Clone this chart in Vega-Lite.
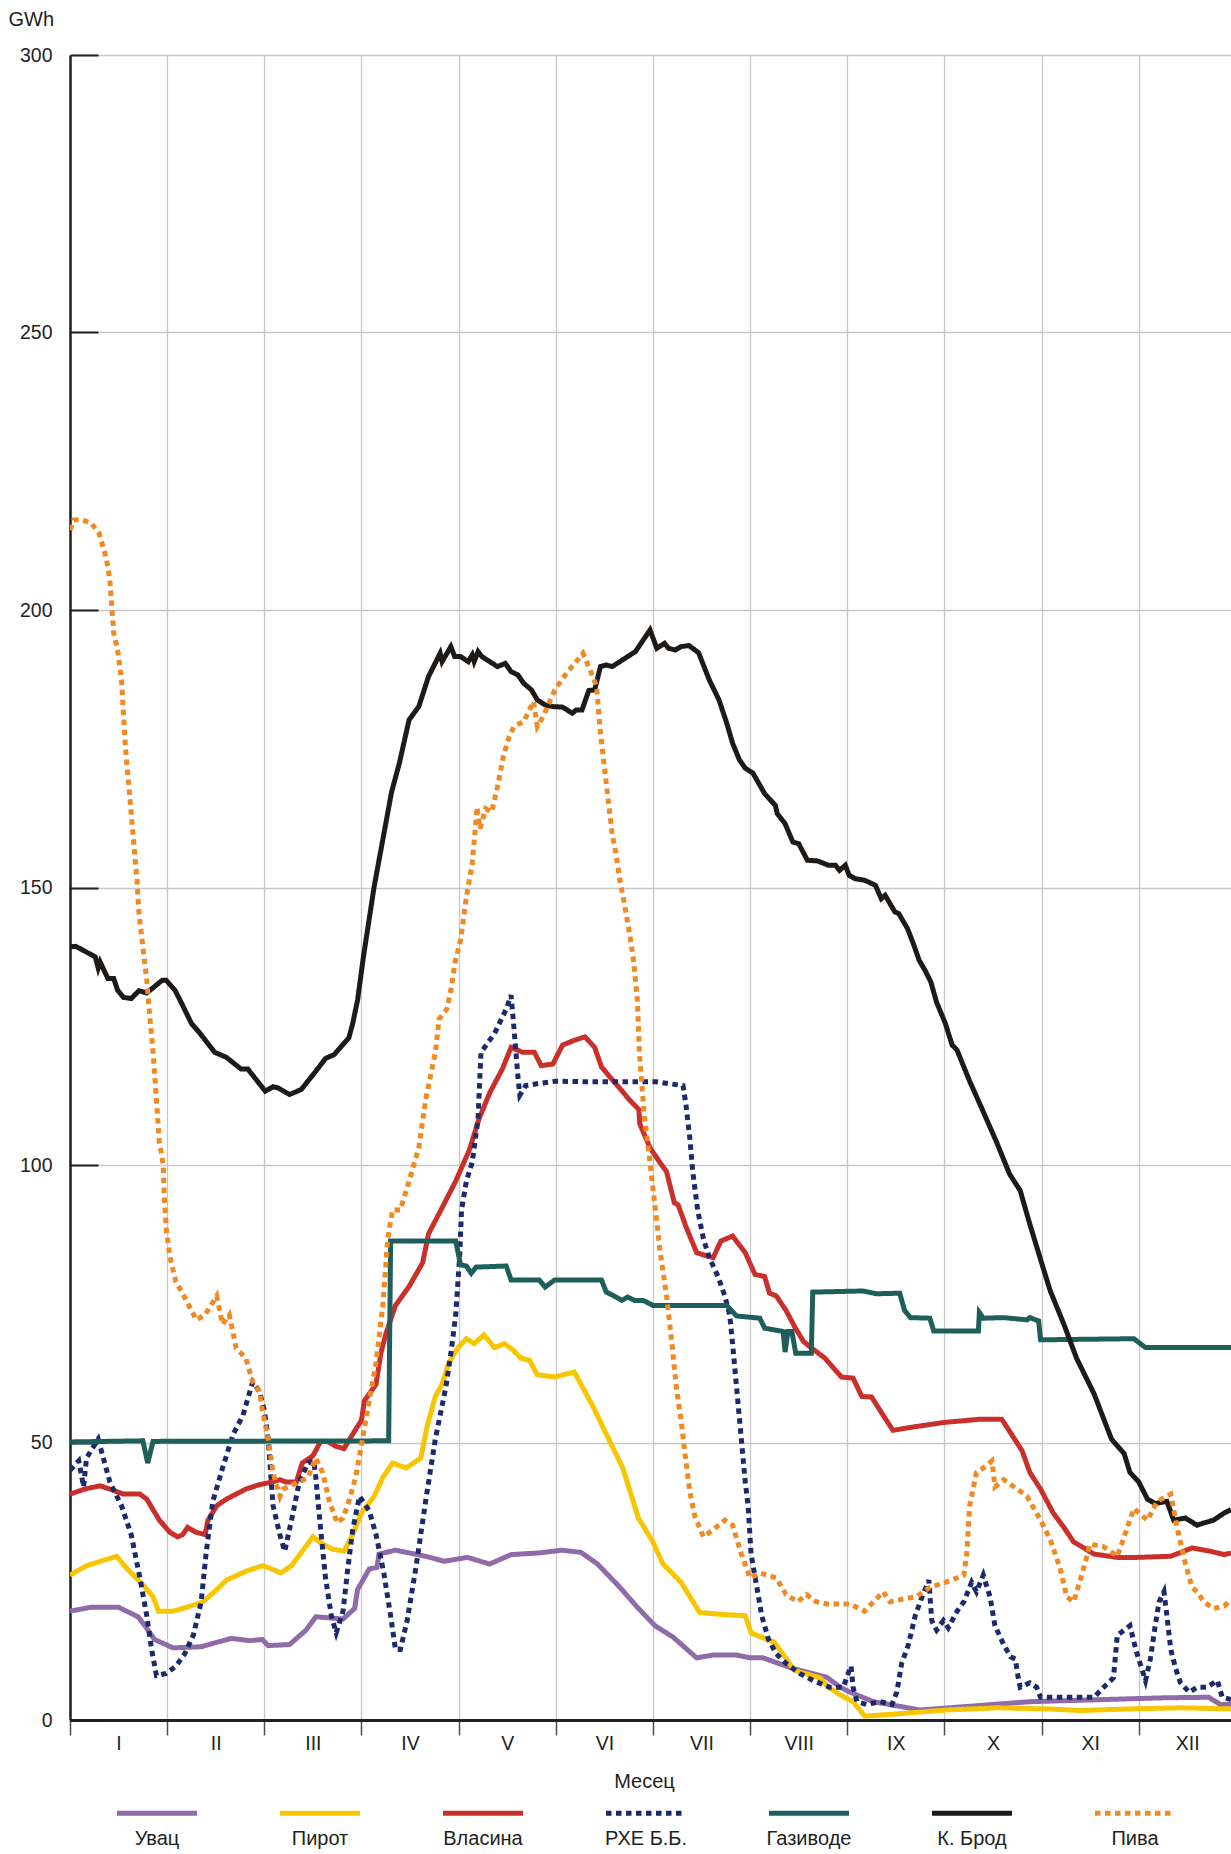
{
  "$schema": "https://vega.github.io/schema/vega-lite/v6.json",
  "width": 1161,
  "height": 1665,
  "autosize": {"type": "none"},
  "padding": {"left": 70, "top": 55, "right": 0, "bottom": 134},
  "background": "white",
  "config": {"view": {"stroke": null}, "font": "Liberation Sans"},
  "datasets": {
    "d": [
      {"s":"Увац","m":0,"v":19.6},{"s":"Увац","m":0.21,"v":20.3},{"s":"Увац","m":0.5,"v":20.3},{"s":"Увац","m":0.7,"v":18.6},{"s":"Увац","m":0.77,"v":17.0},{"s":"Увац","m":0.87,"v":14.5},{"s":"Увац","m":1.06,"v":13.0},{"s":"Увац","m":1.35,"v":13.2},{"s":"Увац","m":1.51,"v":14.0},{"s":"Увац","m":1.66,"v":14.7},{"s":"Увац","m":1.85,"v":14.3},{"s":"Увац","m":1.98,"v":14.5},{"s":"Увац","m":2.04,"v":13.4},{"s":"Увац","m":2.26,"v":13.6},{"s":"Увац","m":2.43,"v":16.2},{"s":"Увац","m":2.53,"v":18.6},{"s":"Увац","m":2.81,"v":18.2},{"s":"Увац","m":2.93,"v":20.1},{"s":"Увац","m":2.96,"v":23.5},{"s":"Увац","m":3.08,"v":27.2},{"s":"Увац","m":3.16,"v":27.5},{"s":"Увац","m":3.18,"v":29.9},{"s":"Увац","m":3.35,"v":30.6},{"s":"Увац","m":3.66,"v":29.5},{"s":"Увац","m":3.85,"v":28.6},{"s":"Увац","m":4.09,"v":29.3},{"s":"Увац","m":4.32,"v":28.1},{"s":"Увац","m":4.54,"v":29.8},{"s":"Увац","m":4.83,"v":30.1},{"s":"Увац","m":5.06,"v":30.6},{"s":"Увац","m":5.26,"v":30.2},{"s":"Увац","m":5.43,"v":28.1},{"s":"Увац","m":5.66,"v":23.9},{"s":"Увац","m":5.83,"v":20.5},{"s":"Увац","m":6.02,"v":17.0},{"s":"Увац","m":6.21,"v":14.9},{"s":"Увац","m":6.45,"v":11.2},{"s":"Увац","m":6.62,"v":11.7},{"s":"Увац","m":6.86,"v":11.7},{"s":"Увац","m":7.0,"v":11.2},{"s":"Увац","m":7.13,"v":11.2},{"s":"Увац","m":7.44,"v":9.3},{"s":"Увац","m":7.79,"v":7.7},{"s":"Увац","m":7.92,"v":6.0},{"s":"Увац","m":8.03,"v":5.0},{"s":"Увац","m":8.27,"v":3.3},{"s":"Увац","m":8.75,"v":1.8},{"s":"Увац","m":9.88,"v":3.3},{"s":"Увац","m":11.26,"v":4.0},{"s":"Увац","m":11.72,"v":4.1},{"s":"Увац","m":11.84,"v":2.8},{"s":"Увац","m":11.95,"v":2.8},

      {"s":"Пирот","m":0,"v":26.1},{"s":"Пирот","m":0.17,"v":27.8},{"s":"Пирот","m":0.48,"v":29.5},{"s":"Пирот","m":0.58,"v":27.4},{"s":"Пирот","m":0.68,"v":25.6},{"s":"Пирот","m":0.75,"v":24.4},{"s":"Пирот","m":0.855,"v":22.2},{"s":"Пирот","m":0.91,"v":19.6},{"s":"Пирот","m":1.06,"v":19.6},{"s":"Пирот","m":1.2,"v":20.3},{"s":"Пирот","m":1.37,"v":21.3},{"s":"Пирот","m":1.51,"v":23.5},{"s":"Пирот","m":1.61,"v":25.2},{"s":"Пирот","m":1.81,"v":26.8},{"s":"Пирот","m":1.98,"v":27.8},{"s":"Пирот","m":2.05,"v":27.4},{"s":"Пирот","m":2.17,"v":26.5},{"s":"Пирот","m":2.28,"v":27.8},{"s":"Пирот","m":2.39,"v":30.4},{"s":"Пирот","m":2.5,"v":33.0},{"s":"Пирот","m":2.6,"v":31.7},{"s":"Пирот","m":2.7,"v":30.8},{"s":"Пирот","m":2.82,"v":30.4},{"s":"Пирот","m":2.91,"v":33.4},{"s":"Пирот","m":3.0,"v":37.3},{"s":"Пирот","m":3.13,"v":40.3},{"s":"Пирот","m":3.22,"v":43.7},{"s":"Пирот","m":3.32,"v":46.3},{"s":"Пирот","m":3.46,"v":45.4},{"s":"Пирот","m":3.61,"v":47.2},{"s":"Пирот","m":3.68,"v":53.2},{"s":"Пирот","m":3.76,"v":58.3},{"s":"Пирот","m":3.83,"v":60.5},{"s":"Пирот","m":3.9,"v":64.4},{"s":"Пирот","m":3.99,"v":67.0},{"s":"Пирот","m":4.08,"v":68.7},{"s":"Пирот","m":4.16,"v":67.8},{"s":"Пирот","m":4.26,"v":69.4},{"s":"Пирот","m":4.37,"v":67.1},{"s":"Пирот","m":4.47,"v":67.8},{"s":"Пирот","m":4.56,"v":66.7},{"s":"Пирот","m":4.64,"v":65.2},{"s":"Пирот","m":4.73,"v":64.8},{"s":"Пирот","m":4.81,"v":62.2},{"s":"Пирот","m":4.99,"v":61.8},{"s":"Пирот","m":5.19,"v":62.7},{"s":"Пирот","m":5.38,"v":56.6},{"s":"Пирот","m":5.52,"v":51.5},{"s":"Пирот","m":5.69,"v":45.4},{"s":"Пирот","m":5.85,"v":36.4},{"s":"Пирот","m":6.0,"v":32.1},{"s":"Пирот","m":6.1,"v":28.2},{"s":"Пирот","m":6.29,"v":24.8},{"s":"Пирот","m":6.48,"v":19.4},{"s":"Пирот","m":6.72,"v":19.0},{"s":"Пирот","m":6.95,"v":18.8},{"s":"Пирот","m":7.01,"v":15.7},{"s":"Пирот","m":7.25,"v":14.0},{"s":"Пирот","m":7.46,"v":8.9},{"s":"Пирот","m":7.72,"v":7.6},{"s":"Пирот","m":7.8,"v":6.0},{"s":"Пирот","m":7.92,"v":4.6},{"s":"Пирот","m":8.06,"v":3.3},{"s":"Пирот","m":8.18,"v":0.7},{"s":"Пирот","m":8.51,"v":1.1},{"s":"Пирот","m":9.02,"v":1.8},{"s":"Пирот","m":9.54,"v":2.2},{"s":"Пирот","m":10.05,"v":2.0},{"s":"Пирот","m":10.4,"v":1.7},{"s":"Пирот","m":10.91,"v":2.0},{"s":"Пирот","m":11.43,"v":2.2},{"s":"Пирот","m":11.95,"v":2.0},

      {"s":"Власина","m":0,"v":40.7},{"s":"Власина","m":0.15,"v":41.6},{"s":"Власина","m":0.31,"v":42.2},{"s":"Власина","m":0.41,"v":41.6},{"s":"Власина","m":0.55,"v":40.7},{"s":"Власина","m":0.72,"v":40.7},{"s":"Власина","m":0.79,"v":39.8},{"s":"Власина","m":0.92,"v":36.0},{"s":"Власина","m":1.03,"v":33.8},{"s":"Власина","m":1.11,"v":33.0},{"s":"Власина","m":1.16,"v":33.4},{"s":"Власина","m":1.21,"v":34.7},{"s":"Власина","m":1.3,"v":33.8},{"s":"Власина","m":1.39,"v":33.4},{"s":"Власина","m":1.42,"v":36.0},{"s":"Власина","m":1.51,"v":38.6},{"s":"Власина","m":1.61,"v":39.8},{"s":"Власина","m":1.81,"v":41.6},{"s":"Власина","m":1.95,"v":42.4},{"s":"Власина","m":2.09,"v":42.9},{"s":"Власина","m":2.16,"v":43.3},{"s":"Власина","m":2.22,"v":42.9},{"s":"Власина","m":2.33,"v":42.9},{"s":"Власина","m":2.39,"v":46.3},{"s":"Власина","m":2.5,"v":47.6},{"s":"Власина","m":2.58,"v":50.2},{"s":"Власина","m":2.65,"v":50.2},{"s":"Власина","m":2.74,"v":49.3},{"s":"Власина","m":2.82,"v":48.9},{"s":"Власина","m":2.91,"v":51.5},{"s":"Власина","m":3.0,"v":54.0},{"s":"Власина","m":3.03,"v":57.5},{"s":"Власина","m":3.15,"v":60.5},{"s":"Власина","m":3.2,"v":66.1},{"s":"Власина","m":3.25,"v":69.5},{"s":"Власина","m":3.35,"v":74.7},{"s":"Власина","m":3.49,"v":78.1},{"s":"Власина","m":3.63,"v":82.4},{"s":"Власина","m":3.69,"v":87.6},{"s":"Власина","m":3.83,"v":92.3},{"s":"Власина","m":3.97,"v":97.1},{"s":"Власина","m":4.11,"v":102.7},{"s":"Власина","m":4.21,"v":108.3},{"s":"Власина","m":4.32,"v":113.0},{"s":"Власина","m":4.45,"v":117.3},{"s":"Власина","m":4.54,"v":121.2},{"s":"Власина","m":4.66,"v":120.3},{"s":"Власина","m":4.78,"v":120.3},{"s":"Власина","m":4.85,"v":117.9},{"s":"Власина","m":4.97,"v":118.2},{"s":"Власина","m":5.07,"v":121.6},{"s":"Власина","m":5.18,"v":122.4},{"s":"Власина","m":5.3,"v":123.1},{"s":"Власина","m":5.4,"v":121.2},{"s":"Власина","m":5.47,"v":117.7},{"s":"Власина","m":5.55,"v":116.0},{"s":"Власина","m":5.66,"v":113.8},{"s":"Власина","m":5.76,"v":111.7},{"s":"Власина","m":5.855,"v":110.0},{"s":"Власина","m":5.865,"v":107.4},{"s":"Власина","m":5.97,"v":103.1},{"s":"Власина","m":6.07,"v":100.5},{"s":"Власина","m":6.14,"v":98.8},{"s":"Власина","m":6.22,"v":93.2},{"s":"Власина","m":6.26,"v":92.8},{"s":"Власина","m":6.34,"v":88.9},{"s":"Власина","m":6.45,"v":84.2},{"s":"Власина","m":6.52,"v":83.8},{"s":"Власина","m":6.62,"v":83.3},{"s":"Власина","m":6.7,"v":86.3},{"s":"Власина","m":6.82,"v":87.2},{"s":"Власина","m":6.95,"v":84.2},{"s":"Власина","m":7.05,"v":80.3},{"s":"Власина","m":7.15,"v":79.9},{"s":"Власина","m":7.2,"v":76.9},{"s":"Власина","m":7.27,"v":76.4},{"s":"Власина","m":7.37,"v":73.8},{"s":"Власина","m":7.46,"v":70.8},{"s":"Власина","m":7.55,"v":68.2},{"s":"Власина","m":7.65,"v":66.8},{"s":"Власина","m":7.77,"v":65.2},{"s":"Власина","m":7.94,"v":61.8},{"s":"Власина","m":8.06,"v":61.6},{"s":"Власина","m":8.15,"v":58.3},{"s":"Власина","m":8.25,"v":58.2},{"s":"Власина","m":8.37,"v":54.9},{"s":"Власина","m":8.47,"v":52.2},{"s":"Власина","m":8.68,"v":52.8},{"s":"Власина","m":8.99,"v":53.6},{"s":"Власина","m":9.37,"v":54.2},{"s":"Власина","m":9.59,"v":54.2},{"s":"Власина","m":9.69,"v":51.5},{"s":"Власина","m":9.8,"v":48.5},{"s":"Власина","m":9.88,"v":44.6},{"s":"Власина","m":9.99,"v":41.6},{"s":"Власина","m":10.12,"v":37.3},{"s":"Власина","m":10.23,"v":34.7},{"s":"Власина","m":10.33,"v":32.1},{"s":"Власина","m":10.54,"v":29.9},{"s":"Власина","m":10.78,"v":29.3},{"s":"Власина","m":10.98,"v":29.3},{"s":"Власина","m":11.33,"v":29.5},{"s":"Власина","m":11.55,"v":31.0},{"s":"Власина","m":11.74,"v":30.4},{"s":"Власина","m":11.88,"v":29.8},{"s":"Власина","m":11.95,"v":30.1},

      {"s":"РХЕ Б.Б.","m":0,"v":45.0},{"s":"РХЕ Б.Б.","m":0.09,"v":46.7},{"s":"РХЕ Б.Б.","m":0.14,"v":42.0},{"s":"РХЕ Б.Б.","m":0.17,"v":47.2},{"s":"РХЕ Б.Б.","m":0.29,"v":50.6},{"s":"РХЕ Б.Б.","m":0.41,"v":42.9},{"s":"РХЕ Б.Б.","m":0.53,"v":38.6},{"s":"РХЕ Б.Б.","m":0.63,"v":33.4},{"s":"РХЕ Б.Б.","m":0.72,"v":25.6},{"s":"РХЕ Б.Б.","m":0.79,"v":18.8},{"s":"РХЕ Б.Б.","m":0.84,"v":12.7},{"s":"РХЕ Б.Б.","m":0.89,"v":8.0},{"s":"РХЕ Б.Б.","m":0.99,"v":8.4},{"s":"РХЕ Б.Б.","m":1.09,"v":9.7},{"s":"РХЕ Б.Б.","m":1.18,"v":11.9},{"s":"РХЕ Б.Б.","m":1.27,"v":15.3},{"s":"РХЕ Б.Б.","m":1.35,"v":21.3},{"s":"РХЕ Б.Б.","m":1.4,"v":29.9},{"s":"РХЕ Б.Б.","m":1.47,"v":39.4},{"s":"РХЕ Б.Б.","m":1.57,"v":45.4},{"s":"РХЕ Б.Б.","m":1.68,"v":51.5},{"s":"РХЕ Б.Б.","m":1.78,"v":54.9},{"s":"РХЕ Б.Б.","m":1.88,"v":60.9},{"s":"РХЕ Б.Б.","m":1.95,"v":59.2},{"s":"РХЕ Б.Б.","m":2.0,"v":55.8},{"s":"РХЕ Б.Б.","m":2.04,"v":50.6},{"s":"РХЕ Б.Б.","m":2.09,"v":38.6},{"s":"РХЕ Б.Б.","m":2.16,"v":33.4},{"s":"РХЕ Б.Б.","m":2.21,"v":30.4},{"s":"РХЕ Б.Б.","m":2.29,"v":36.8},{"s":"РХЕ Б.Б.","m":2.36,"v":42.9},{"s":"РХЕ Б.Б.","m":2.45,"v":46.3},{"s":"РХЕ Б.Б.","m":2.51,"v":46.7},{"s":"РХЕ Б.Б.","m":2.53,"v":43.7},{"s":"РХЕ Б.Б.","m":2.58,"v":34.3},{"s":"РХЕ Б.Б.","m":2.63,"v":25.6},{"s":"РХЕ Б.Б.","m":2.69,"v":18.8},{"s":"РХЕ Б.Б.","m":2.74,"v":15.7},{"s":"РХЕ Б.Б.","m":2.81,"v":19.6},{"s":"РХЕ Б.Б.","m":2.86,"v":27.4},{"s":"РХЕ Б.Б.","m":2.91,"v":34.3},{"s":"РХЕ Б.Б.","m":2.98,"v":40.3},{"s":"РХЕ Б.Б.","m":3.08,"v":37.7},{"s":"РХЕ Б.Б.","m":3.15,"v":33.4},{"s":"РХЕ Б.Б.","m":3.23,"v":26.5},{"s":"РХЕ Б.Б.","m":3.3,"v":18.8},{"s":"РХЕ Б.Б.","m":3.35,"v":12.7},{"s":"РХЕ Б.Б.","m":3.4,"v":12.7},{"s":"РХЕ Б.Б.","m":3.47,"v":17.9},{"s":"РХЕ Б.Б.","m":3.56,"v":27.4},{"s":"РХЕ Б.Б.","m":3.66,"v":39.4},{"s":"РХЕ Б.Б.","m":3.76,"v":50.6},{"s":"РХЕ Б.Б.","m":3.87,"v":60.1},{"s":"РХЕ Б.Б.","m":3.92,"v":66.0},{"s":"РХЕ Б.Б.","m":3.97,"v":73.0},{"s":"РХЕ Б.Б.","m":4.01,"v":83.3},{"s":"РХЕ Б.Б.","m":4.03,"v":91.9},{"s":"РХЕ Б.Б.","m":4.08,"v":97.1},{"s":"РХЕ Б.Б.","m":4.14,"v":100.5},{"s":"РХЕ Б.Б.","m":4.2,"v":108.3},{"s":"РХЕ Б.Б.","m":4.23,"v":120.3},{"s":"РХЕ Б.Б.","m":4.37,"v":123.7},{"s":"РХЕ Б.Б.","m":4.49,"v":128.1},{"s":"РХЕ Б.Б.","m":4.54,"v":130.6},{"s":"РХЕ Б.Б.","m":4.57,"v":124.6},{"s":"РХЕ Б.Б.","m":4.61,"v":116.0},{"s":"РХЕ Б.Б.","m":4.63,"v":112.6},{"s":"РХЕ Б.Б.","m":4.69,"v":114.3},{"s":"РХЕ Б.Б.","m":4.83,"v":114.7},{"s":"РХЕ Б.Б.","m":5.0,"v":115.1},{"s":"РХЕ Б.Б.","m":5.35,"v":115.0},{"s":"РХЕ Б.Б.","m":5.69,"v":115.0},{"s":"РХЕ Б.Б.","m":6.03,"v":115.0},{"s":"РХЕ Б.Б.","m":6.31,"v":114.3},{"s":"РХЕ Б.Б.","m":6.34,"v":110.8},{"s":"РХЕ Б.Б.","m":6.38,"v":104.8},{"s":"РХЕ Б.Б.","m":6.41,"v":98.8},{"s":"РХЕ Б.Б.","m":6.46,"v":91.9},{"s":"РХЕ Б.Б.","m":6.52,"v":86.7},{"s":"РХЕ Б.Б.","m":6.58,"v":83.3},{"s":"РХЕ Б.Б.","m":6.67,"v":79.9},{"s":"РХЕ Б.Б.","m":6.74,"v":76.4},{"s":"РХЕ Б.Б.","m":6.79,"v":73.0},{"s":"РХЕ Б.Б.","m":6.82,"v":67.8},{"s":"РХЕ Б.Б.","m":6.86,"v":60.1},{"s":"РХЕ Б.Б.","m":6.91,"v":50.6},{"s":"РХЕ Б.Б.","m":6.95,"v":42.9},{"s":"РХЕ Б.Б.","m":6.98,"v":38.6},{"s":"РХЕ Б.Б.","m":7.01,"v":29.9},{"s":"РХЕ Б.Б.","m":7.07,"v":23.9},{"s":"РХЕ Б.Б.","m":7.12,"v":18.8},{"s":"РХЕ Б.Б.","m":7.19,"v":14.5},{"s":"РХЕ Б.Б.","m":7.27,"v":11.9},{"s":"РХЕ Б.Б.","m":7.37,"v":10.2},{"s":"РХЕ Б.Б.","m":7.51,"v":8.4},{"s":"РХЕ Б.Б.","m":7.65,"v":7.1},{"s":"РХЕ Б.Б.","m":7.82,"v":5.9},{"s":"РХЕ Б.Б.","m":7.96,"v":5.9},{"s":"РХЕ Б.Б.","m":8.01,"v":8.4},{"s":"РХЕ Б.Б.","m":8.04,"v":9.7},{"s":"РХЕ Б.Б.","m":8.06,"v":5.9},{"s":"РХЕ Б.Б.","m":8.1,"v":3.3},{"s":"РХЕ Б.Б.","m":8.2,"v":2.8},{"s":"РХЕ Б.Б.","m":8.34,"v":3.3},{"s":"РХЕ Б.Б.","m":8.46,"v":2.8},{"s":"РХЕ Б.Б.","m":8.51,"v":5.0},{"s":"РХЕ Б.Б.","m":8.56,"v":10.2},{"s":"РХЕ Б.Б.","m":8.63,"v":13.6},{"s":"РХЕ Б.Б.","m":8.7,"v":18.8},{"s":"РХЕ Б.Б.","m":8.77,"v":22.2},{"s":"РХЕ Б.Б.","m":8.84,"v":25.2},{"s":"РХЕ Б.Б.","m":8.87,"v":17.9},{"s":"РХЕ Б.Б.","m":8.92,"v":16.2},{"s":"РХЕ Б.Б.","m":8.99,"v":17.9},{"s":"РХЕ Б.Б.","m":9.04,"v":16.6},{"s":"РХЕ Б.Б.","m":9.13,"v":19.6},{"s":"РХЕ Б.Б.","m":9.2,"v":21.3},{"s":"РХЕ Б.Б.","m":9.28,"v":24.8},{"s":"РХЕ Б.Б.","m":9.33,"v":23.1},{"s":"РХЕ Б.Б.","m":9.4,"v":26.1},{"s":"РХЕ Б.Б.","m":9.47,"v":22.2},{"s":"РХЕ Б.Б.","m":9.52,"v":17.0},{"s":"РХЕ Б.Б.","m":9.61,"v":13.6},{"s":"РХЕ Б.Б.","m":9.68,"v":11.4},{"s":"РХЕ Б.Б.","m":9.73,"v":11.0},{"s":"РХЕ Б.Б.","m":9.76,"v":7.6},{"s":"РХЕ Б.Б.","m":9.78,"v":5.9},{"s":"РХЕ Б.Б.","m":9.88,"v":6.7},{"s":"РХЕ Б.Б.","m":9.95,"v":5.9},{"s":"РХЕ Б.Б.","m":9.99,"v":4.1},{"s":"РХЕ Б.Б.","m":10.23,"v":4.1},{"s":"РХЕ Б.Б.","m":10.54,"v":4.1},{"s":"РХЕ Б.Б.","m":10.64,"v":5.9},{"s":"РХЕ Б.Б.","m":10.74,"v":7.6},{"s":"РХЕ Б.Б.","m":10.78,"v":15.3},{"s":"РХЕ Б.Б.","m":10.85,"v":16.2},{"s":"РХЕ Б.Б.","m":10.91,"v":17.0},{"s":"РХЕ Б.Б.","m":10.97,"v":12.7},{"s":"РХЕ Б.Б.","m":11.03,"v":9.3},{"s":"РХЕ Б.Б.","m":11.07,"v":7.1},{"s":"РХЕ Б.Б.","m":11.12,"v":11.0},{"s":"РХЕ Б.Б.","m":11.17,"v":17.0},{"s":"РХЕ Б.Б.","m":11.21,"v":21.3},{"s":"РХЕ Б.Б.","m":11.26,"v":23.1},{"s":"РХЕ Б.Б.","m":11.29,"v":18.8},{"s":"РХЕ Б.Б.","m":11.33,"v":12.7},{"s":"РХЕ Б.Б.","m":11.38,"v":9.3},{"s":"РХЕ Б.Б.","m":11.43,"v":6.7},{"s":"РХЕ Б.Б.","m":11.52,"v":5.0},{"s":"РХЕ Б.Б.","m":11.6,"v":5.9},{"s":"РХЕ Б.Б.","m":11.7,"v":5.9},{"s":"РХЕ Б.Б.","m":11.81,"v":7.1},{"s":"РХЕ Б.Б.","m":11.86,"v":4.1},{"s":"РХЕ Б.Б.","m":11.95,"v":3.7},

      {"s":"Газиводе","m":0,"v":50.1},{"s":"Газиводе","m":0.75,"v":50.3},{"s":"Газиводе","m":0.8,"v":46.3},{"s":"Газиводе","m":0.855,"v":50.2},{"s":"Газиводе","m":3.28,"v":50.3},{"s":"Газиводе","m":3.3,"v":86.3},{"s":"Газиводе","m":3.97,"v":86.3},{"s":"Газиводе","m":4.02,"v":82.0},{"s":"Газиводе","m":4.08,"v":81.8},{"s":"Газиводе","m":4.13,"v":80.5},{"s":"Газиводе","m":4.18,"v":81.6},{"s":"Газиводе","m":4.49,"v":81.8},{"s":"Газиводе","m":4.54,"v":79.3},{"s":"Газиводе","m":4.83,"v":79.3},{"s":"Газиводе","m":4.89,"v":78.0},{"s":"Газиводе","m":4.99,"v":79.3},{"s":"Газиводе","m":5.47,"v":79.3},{"s":"Газиводе","m":5.52,"v":77.1},{"s":"Газиводе","m":5.6,"v":76.4},{"s":"Газиводе","m":5.68,"v":75.6},{"s":"Газиводе","m":5.74,"v":76.2},{"s":"Газиводе","m":5.81,"v":75.6},{"s":"Газиводе","m":5.9,"v":75.6},{"s":"Газиводе","m":6.0,"v":74.7},{"s":"Газиводе","m":6.76,"v":74.7},{"s":"Газиводе","m":6.86,"v":72.8},{"s":"Газиводе","m":7.1,"v":72.4},{"s":"Газиводе","m":7.15,"v":70.6},{"s":"Газиводе","m":7.34,"v":70.0},{"s":"Газиводе","m":7.36,"v":66.3},{"s":"Газиводе","m":7.39,"v":70.0},{"s":"Газиводе","m":7.43,"v":70.0},{"s":"Газиводе","m":7.47,"v":66.1},{"s":"Газиводе","m":7.63,"v":66.1},{"s":"Газиводе","m":7.645,"v":77.1},{"s":"Газиводе","m":8.16,"v":77.3},{"s":"Газиводе","m":8.3,"v":76.8},{"s":"Газиводе","m":8.54,"v":76.9},{"s":"Газиводе","m":8.59,"v":73.8},{"s":"Газиводе","m":8.65,"v":72.5},{"s":"Газиводе","m":8.85,"v":72.4},{"s":"Газиводе","m":8.89,"v":70.1},{"s":"Газиводе","m":9.35,"v":70.1},{"s":"Газиводе","m":9.36,"v":73.4},{"s":"Газиводе","m":9.4,"v":72.4},{"s":"Газиводе","m":9.61,"v":72.5},{"s":"Газиводе","m":9.85,"v":72.1},{"s":"Газиводе","m":9.88,"v":72.5},{"s":"Газиводе","m":9.97,"v":71.9},{"s":"Газиводе","m":9.99,"v":68.5},{"s":"Газиводе","m":10.95,"v":68.7},{"s":"Газиводе","m":11.07,"v":67.1},{"s":"Газиводе","m":11.95,"v":67.1},

      {"s":"К. Брод","m":0,"v":139.3},{"s":"К. Брод","m":0.06,"v":139.4},{"s":"К. Брод","m":0.26,"v":137.5},{"s":"К. Брод","m":0.29,"v":135.5},{"s":"К. Брод","m":0.31,"v":136.6},{"s":"К. Брод","m":0.39,"v":133.6},{"s":"К. Брод","m":0.45,"v":133.6},{"s":"К. Брод","m":0.49,"v":131.5},{"s":"К. Брод","m":0.55,"v":130.2},{"s":"К. Брод","m":0.63,"v":130.0},{"s":"К. Брод","m":0.71,"v":131.4},{"s":"К. Брод","m":0.79,"v":131.0},{"s":"К. Брод","m":0.95,"v":133.3},{"s":"К. Брод","m":0.99,"v":133.3},{"s":"К. Брод","m":1.08,"v":131.5},{"s":"К. Брод","m":1.13,"v":129.8},{"s":"К. Брод","m":1.25,"v":125.5},{"s":"К. Брод","m":1.33,"v":123.9},{"s":"К. Брод","m":1.49,"v":120.3},{"s":"К. Брод","m":1.61,"v":119.4},{"s":"К. Брод","m":1.76,"v":117.3},{"s":"К. Брод","m":1.83,"v":117.3},{"s":"К. Брод","m":2.01,"v":113.3},{"s":"К. Брод","m":2.09,"v":114.1},{"s":"К. Брод","m":2.14,"v":113.9},{"s":"К. Брод","m":2.26,"v":112.7},{"s":"К. Брод","m":2.38,"v":113.6},{"s":"К. Брод","m":2.53,"v":116.9},{"s":"К. Брод","m":2.63,"v":119.2},{"s":"К. Брод","m":2.72,"v":119.9},{"s":"К. Брод","m":2.87,"v":122.9},{"s":"К. Брод","m":2.91,"v":125.5},{"s":"К. Брод","m":2.96,"v":129.7},{"s":"К. Брод","m":3.02,"v":137.5},{"s":"К. Брод","m":3.13,"v":150.1},{"s":"К. Брод","m":3.25,"v":161.5},{"s":"К. Брод","m":3.31,"v":167.2},{"s":"К. Брод","m":3.39,"v":172.4},{"s":"К. Брод","m":3.49,"v":180.2},{"s":"К. Брод","m":3.59,"v":182.6},{"s":"К. Брод","m":3.69,"v":188.0},{"s":"К. Брод","m":3.81,"v":192.2},{"s":"К. Брод","m":3.83,"v":190.7},{"s":"К. Брод","m":3.92,"v":193.4},{"s":"К. Брод","m":3.96,"v":191.6},{"s":"К. Брод","m":4.02,"v":191.6},{"s":"К. Брод","m":4.1,"v":190.7},{"s":"К. Брод","m":4.14,"v":191.9},{"s":"К. Брод","m":4.16,"v":190.7},{"s":"К. Брод","m":4.2,"v":192.5},{"s":"К. Брод","m":4.24,"v":191.6},{"s":"К. Брод","m":4.32,"v":190.7},{"s":"К. Брод","m":4.4,"v":189.8},{"s":"К. Брод","m":4.48,"v":190.4},{"s":"К. Брод","m":4.54,"v":188.9},{"s":"К. Брод","m":4.61,"v":188.3},{"s":"К. Брод","m":4.67,"v":186.8},{"s":"К. Брод","m":4.75,"v":185.6},{"s":"К. Брод","m":4.81,"v":183.8},{"s":"К. Брод","m":4.89,"v":182.9},{"s":"К. Брод","m":4.97,"v":182.6},{"s":"К. Брод","m":5.07,"v":182.5},{"s":"К. Брод","m":5.17,"v":181.4},{"s":"К. Брод","m":5.21,"v":182.0},{"s":"К. Брод","m":5.27,"v":182.0},{"s":"К. Брод","m":5.34,"v":185.5},{"s":"К. Брод","m":5.4,"v":185.6},{"s":"К. Брод","m":5.46,"v":189.8},{"s":"К. Брод","m":5.52,"v":190.1},{"s":"К. Брод","m":5.58,"v":189.8},{"s":"К. Брод","m":5.82,"v":192.5},{"s":"К. Брод","m":5.97,"v":196.4},{"s":"К. Брод","m":6.04,"v":193.1},{"s":"К. Брод","m":6.12,"v":194.0},{"s":"К. Брод","m":6.16,"v":193.1},{"s":"К. Брод","m":6.23,"v":192.8},{"s":"К. Брод","m":6.29,"v":193.4},{"s":"К. Брод","m":6.37,"v":193.6},{"s":"К. Брод","m":6.47,"v":192.3},{"s":"К. Брод","m":6.58,"v":187.4},{"s":"К. Брод","m":6.68,"v":183.8},{"s":"К. Брод","m":6.76,"v":179.6},{"s":"К. Брод","m":6.82,"v":176.0},{"s":"К. Брод","m":6.89,"v":173.0},{"s":"К. Брод","m":6.95,"v":171.5},{"s":"К. Брод","m":7.03,"v":170.6},{"s":"К. Брод","m":7.15,"v":166.9},{"s":"К. Брод","m":7.26,"v":164.8},{"s":"К. Брод","m":7.28,"v":163.3},{"s":"К. Брод","m":7.36,"v":161.5},{"s":"К. Брод","m":7.44,"v":158.2},{"s":"К. Брод","m":7.5,"v":157.9},{"s":"К. Брод","m":7.59,"v":154.9},{"s":"К. Брод","m":7.69,"v":154.8},{"s":"К. Брод","m":7.81,"v":154.0},{"s":"К. Брод","m":7.88,"v":154.0},{"s":"К. Брод","m":7.92,"v":153.1},{"s":"К. Брод","m":7.98,"v":154.0},{"s":"К. Брод","m":8.02,"v":152.2},{"s":"К. Брод","m":8.08,"v":151.6},{"s":"К. Брод","m":8.18,"v":151.3},{"s":"К. Брод","m":8.29,"v":150.4},{"s":"К. Брод","m":8.35,"v":148.0},{"s":"К. Брод","m":8.39,"v":148.6},{"s":"К. Брод","m":8.49,"v":145.6},{"s":"К. Брод","m":8.53,"v":145.3},{"s":"К. Брод","m":8.62,"v":142.6},{"s":"К. Брод","m":8.68,"v":139.9},{"s":"К. Брод","m":8.74,"v":136.9},{"s":"К. Брод","m":8.8,"v":135.1},{"s":"К. Брод","m":8.86,"v":133.0},{"s":"К. Брод","m":8.92,"v":129.3},{"s":"К. Брод","m":9.01,"v":125.5},{"s":"К. Брод","m":9.08,"v":121.6},{"s":"К. Брод","m":9.13,"v":120.7},{"s":"К. Брод","m":9.26,"v":115.1},{"s":"К. Брод","m":9.38,"v":110.4},{"s":"К. Брод","m":9.54,"v":104.0},{"s":"К. Брод","m":9.67,"v":98.4},{"s":"К. Брод","m":9.78,"v":95.4},{"s":"К. Брод","m":9.88,"v":89.3},{"s":"К. Брод","m":10.0,"v":82.4},{"s":"К. Брод","m":10.09,"v":77.3},{"s":"К. Брод","m":10.23,"v":71.3},{"s":"К. Брод","m":10.36,"v":65.2},{"s":"К. Брод","m":10.54,"v":58.8},{"s":"К. Брод","m":10.72,"v":50.6},{"s":"К. Брод","m":10.85,"v":48.0},{"s":"К. Брод","m":10.91,"v":44.6},{"s":"К. Брод","m":11.0,"v":42.9},{"s":"К. Брод","m":11.09,"v":39.8},{"s":"К. Брод","m":11.17,"v":39.0},{"s":"К. Брод","m":11.29,"v":39.4},{"s":"К. Брод","m":11.36,"v":36.0},{"s":"К. Брод","m":11.48,"v":36.4},{"s":"К. Брод","m":11.6,"v":35.1},{"s":"К. Брод","m":11.67,"v":35.5},{"s":"К. Брод","m":11.77,"v":36.0},{"s":"К. Брод","m":11.88,"v":37.3},{"s":"К. Брод","m":11.95,"v":37.9},

      {"s":"Пива","m":0,"v":214.4},{"s":"Пива","m":0.04,"v":216.2},{"s":"Пива","m":0.12,"v":216.3},{"s":"Пива","m":0.22,"v":215.6},{"s":"Пива","m":0.3,"v":213.8},{"s":"Пива","m":0.36,"v":210.2},{"s":"Пива","m":0.39,"v":207.8},{"s":"Пива","m":0.41,"v":205.4},{"s":"Пива","m":0.43,"v":200.6},{"s":"Пива","m":0.45,"v":195.8},{"s":"Пива","m":0.49,"v":192.8},{"s":"Пива","m":0.53,"v":187.4},{"s":"Пива","m":0.55,"v":181.4},{"s":"Пива","m":0.57,"v":175.4},{"s":"Пива","m":0.6,"v":169.4},{"s":"Пива","m":0.63,"v":163.3},{"s":"Пива","m":0.66,"v":157.3},{"s":"Пива","m":0.69,"v":151.3},{"s":"Пива","m":0.71,"v":145.3},{"s":"Пива","m":0.75,"v":139.3},{"s":"Пива","m":0.79,"v":133.3},{"s":"Пива","m":0.82,"v":127.0},{"s":"Пива","m":0.855,"v":120.3},{"s":"Пива","m":0.89,"v":111.7},{"s":"Пива","m":0.92,"v":104.0},{"s":"Пива","m":0.94,"v":102.2},{"s":"Пива","m":0.96,"v":99.7},{"s":"Пива","m":0.97,"v":94.5},{"s":"Пива","m":0.99,"v":88.5},{"s":"Пива","m":1.03,"v":83.3},{"s":"Пива","m":1.09,"v":79.0},{"s":"Пива","m":1.16,"v":76.8},{"s":"Пива","m":1.25,"v":73.8},{"s":"Пива","m":1.3,"v":72.1},{"s":"Пива","m":1.39,"v":73.0},{"s":"Пива","m":1.51,"v":76.4},{"s":"Пива","m":1.57,"v":71.3},{"s":"Пива","m":1.64,"v":73.0},{"s":"Пива","m":1.71,"v":67.0},{"s":"Пива","m":1.81,"v":65.2},{"s":"Пива","m":1.88,"v":60.9},{"s":"Пива","m":1.95,"v":59.2},{"s":"Пива","m":1.98,"v":55.8},{"s":"Пива","m":2.04,"v":50.6},{"s":"Пива","m":2.09,"v":44.6},{"s":"Пива","m":2.16,"v":40.3},{"s":"Пива","m":2.19,"v":41.6},{"s":"Пива","m":2.29,"v":42.4},{"s":"Пива","m":2.36,"v":42.9},{"s":"Пива","m":2.45,"v":43.7},{"s":"Пива","m":2.53,"v":47.2},{"s":"Пива","m":2.6,"v":44.6},{"s":"Пива","m":2.67,"v":39.4},{"s":"Пива","m":2.75,"v":35.5},{"s":"Пива","m":2.81,"v":36.4},{"s":"Пива","m":2.87,"v":39.4},{"s":"Пива","m":2.94,"v":43.7},{"s":"Пива","m":3.01,"v":50.6},{"s":"Пива","m":3.08,"v":57.5},{"s":"Пива","m":3.15,"v":64.4},{"s":"Пива","m":3.22,"v":74.7},{"s":"Пива","m":3.27,"v":86.7},{"s":"Пива","m":3.32,"v":91.9},{"s":"Пива","m":3.4,"v":91.9},{"s":"Пива","m":3.49,"v":97.1},{"s":"Пива","m":3.59,"v":103.1},{"s":"Пива","m":3.66,"v":111.7},{"s":"Пива","m":3.76,"v":120.3},{"s":"Пива","m":3.8,"v":126.3},{"s":"Пива","m":3.88,"v":128.1},{"s":"Пива","m":3.93,"v":132.4},{"s":"Пива","m":3.96,"v":136.3},{"s":"Пива","m":4.02,"v":140.5},{"s":"Пива","m":4.08,"v":148.3},{"s":"Пива","m":4.14,"v":154.3},{"s":"Пива","m":4.17,"v":160.3},{"s":"Пива","m":4.19,"v":164.5},{"s":"Пива","m":4.22,"v":160.6},{"s":"Пива","m":4.28,"v":164.2},{"s":"Пива","m":4.34,"v":163.6},{"s":"Пива","m":4.4,"v":168.1},{"s":"Пива","m":4.46,"v":173.6},{"s":"Пива","m":4.52,"v":177.2},{"s":"Пива","m":4.57,"v":179.0},{"s":"Пива","m":4.67,"v":179.9},{"s":"Пива","m":4.77,"v":183.5},{"s":"Пива","m":4.81,"v":179.0},{"s":"Пива","m":4.87,"v":180.8},{"s":"Пива","m":4.99,"v":185.6},{"s":"Пива","m":5.11,"v":188.6},{"s":"Пива","m":5.21,"v":190.7},{"s":"Пива","m":5.28,"v":192.2},{"s":"Пива","m":5.36,"v":188.9},{"s":"Пива","m":5.42,"v":186.2},{"s":"Пива","m":5.46,"v":177.8},{"s":"Пива","m":5.5,"v":171.8},{"s":"Пива","m":5.54,"v":165.7},{"s":"Пива","m":5.58,"v":159.7},{"s":"Пива","m":5.62,"v":156.1},{"s":"Пива","m":5.66,"v":151.3},{"s":"Пива","m":5.7,"v":147.7},{"s":"Пива","m":5.76,"v":141.7},{"s":"Пива","m":5.8,"v":136.9},{"s":"Пива","m":5.84,"v":129.7},{"s":"Пива","m":5.86,"v":120.3},{"s":"Пива","m":5.91,"v":109.1},{"s":"Пива","m":5.97,"v":100.5},{"s":"Пива","m":6.02,"v":92.8},{"s":"Пива","m":6.07,"v":85.0},{"s":"Пива","m":6.14,"v":76.4},{"s":"Пива","m":6.19,"v":68.7},{"s":"Пива","m":6.24,"v":60.1},{"s":"Пива","m":6.29,"v":54.0},{"s":"Пива","m":6.33,"v":48.0},{"s":"Пива","m":6.38,"v":41.1},{"s":"Пива","m":6.43,"v":36.8},{"s":"Пива","m":6.52,"v":33.0},{"s":"Пива","m":6.62,"v":34.3},{"s":"Пива","m":6.74,"v":36.0},{"s":"Пива","m":6.82,"v":35.1},{"s":"Пива","m":6.91,"v":29.9},{"s":"Пива","m":7.0,"v":25.6},{"s":"Пива","m":7.1,"v":26.5},{"s":"Пива","m":7.27,"v":25.6},{"s":"Пива","m":7.37,"v":22.6},{"s":"Пива","m":7.49,"v":21.3},{"s":"Пива","m":7.58,"v":22.6},{"s":"Пива","m":7.68,"v":21.3},{"s":"Пива","m":7.79,"v":20.9},{"s":"Пива","m":7.92,"v":20.9},{"s":"Пива","m":8.03,"v":20.9},{"s":"Пива","m":8.18,"v":19.6},{"s":"Пива","m":8.27,"v":21.3},{"s":"Пива","m":8.37,"v":23.1},{"s":"Пива","m":8.44,"v":21.3},{"s":"Пива","m":8.58,"v":21.8},{"s":"Пива","m":8.71,"v":22.2},{"s":"Пива","m":8.85,"v":23.9},{"s":"Пива","m":9.01,"v":24.8},{"s":"Пива","m":9.2,"v":26.1},{"s":"Пива","m":9.23,"v":29.9},{"s":"Пива","m":9.26,"v":38.6},{"s":"Пива","m":9.33,"v":44.6},{"s":"Пива","m":9.4,"v":45.4},{"s":"Пива","m":9.49,"v":46.7},{"s":"Пива","m":9.52,"v":42.0},{"s":"Пива","m":9.61,"v":43.3},{"s":"Пива","m":9.75,"v":41.6},{"s":"Пива","m":9.85,"v":40.3},{"s":"Пива","m":9.99,"v":36.0},{"s":"Пива","m":10.09,"v":32.5},{"s":"Пива","m":10.19,"v":27.4},{"s":"Пива","m":10.26,"v":22.2},{"s":"Пива","m":10.33,"v":21.3},{"s":"Пива","m":10.42,"v":26.5},{"s":"Пива","m":10.5,"v":31.7},{"s":"Пива","m":10.64,"v":31.2},{"s":"Пива","m":10.78,"v":29.5},{"s":"Пива","m":10.85,"v":33.0},{"s":"Пива","m":10.95,"v":38.1},{"s":"Пива","m":11.09,"v":36.0},{"s":"Пива","m":11.19,"v":39.4},{"s":"Пива","m":11.29,"v":40.3},{"s":"Пива","m":11.33,"v":40.7},{"s":"Пива","m":11.4,"v":34.3},{"s":"Пива","m":11.48,"v":28.2},{"s":"Пива","m":11.55,"v":23.9},{"s":"Пива","m":11.6,"v":23.1},{"s":"Пива","m":11.67,"v":21.3},{"s":"Пива","m":11.77,"v":20.1},{"s":"Пива","m":11.88,"v":20.5},{"s":"Пива","m":11.95,"v":21.8}
    ]
  },
  "data": {"name": "d"},
  "mark": {"type": "line", "strokeWidth": 5, "clip": true},
  "encoding": {
    "x": {
      "field": "m", "type": "quantitative",
      "scale": {"domain": [0, 11.95], "nice": false, "zero": false},
      "axis": {
        "values": [0,0.5,1,1.5,2,2.5,3,3.5,4,4.5,5,5.5,6,6.5,7,7.5,8,8.5,9,9.5,10,10.5,11,11.5],
        "labelExpr": "datum.value % 1 === 0 ? '' : ['I','II','III','IV','V','VI','VII','VIII','IX','X','XI','XII'][floor(datum.value)]",
        "labelOverlap": false,
        "labelFlush": false,
        "grid": true,
        "gridColor": "#c8c8c8",
        "gridWidth": 1.3,
        "gridOpacity": {"condition": {"test": "datum.value % 1 === 0", "value": 1}, "value": 0},
        "tickOpacity": {"condition": {"test": "datum.value % 1 === 0", "value": 1}, "value": 0},
        "tickSize": 15,
        "tickColor": "#4d4d4d",
        "tickWidth": 1.5,
        "domainColor": "#231f20",
        "domainWidth": 3,
        "labelPadding": -1,
        "labelBaseline": "top",
        "labelFontSize": 19.5,
        "labelFont": "'Liberation Sans Narrow', 'Liberation Sans', sans-serif",
        "labelColor": "#231f20",
        "title": "Месец",
        "titleFontSize": 20,
        "titleFontWeight": "normal",
        "titleColor": "#231f20",
        "titleX": 574,
        "titleY": 67,
        "titleAlign": "center",
        "titleBaseline": "alphabetic"
      }
    },
    "y": {
      "field": "v", "type": "quantitative",
      "scale": {"domain": [0, 300], "nice": false},
      "axis": {
        "values": [0,50,100,150,200,250,300],
        "grid": true,
        "gridColor": "#c8c8c8",
        "gridWidth": 1.3,
        "tickSize": -28,
        "tickColor": "#231f20",
        "tickWidth": 2,
        "domainColor": "#231f20",
        "domainWidth": 2.5,
        "labelPadding": 46,
        "labelFontSize": 19.5,
        "labelColor": "#231f20",
        "labelFlush": false,
        "title": "GWh",
        "titleAngle": 0,
        "titleX": -62,
        "titleY": -36,
        "titleAlign": "left",
        "titleBaseline": "middle",
        "titleFontSize": 20,
        "titleFontWeight": "normal",
        "titleColor": "#231f20"
      }
    },
    "color": {
      "field": "s", "type": "nominal",
      "scale": {
        "domain": ["Увац","Пирот","Власина","РХЕ Б.Б.","Газиводе","К. Брод","Пива"],
        "range": ["#8f6ba8","#f7c600","#c9302c","#1c2a6b","#1e5f5c","#1d1a18","#f08a24"]
      },
      "legend": {
        "title": null, "orient": "none", "legendX": 44.5, "legendY": 1715.5,
        "direction": "horizontal", "columns": 7, "symbolType": "stroke", "symbolSize": 6400,
        "symbolStrokeWidth": 5, "labelAlign": "center", "labelOffset": -42.5, "labelFontSize": 20,
        "labelColor": "#231f20", "columnPadding": 62, "gridAlign": "all", "padding": 0, "labelLimit": 300,
        "encode": {"labels": {"update": {"dy": {"value": 26}}}}
      }
    },
    "strokeDash": {
      "field": "s", "type": "nominal",
      "scale": {
        "domain": ["Увац","Пирот","Власина","РХЕ Б.Б.","Газиводе","К. Брод","Пива"],
        "range": [[1,0],[1,0],[1,0],[5.5,4.5],[1,0],[1,0],[5.5,4.5]]
      },
      "legend": {
        "title": null, "orient": "none", "legendX": 44.5, "legendY": 1715.5,
        "direction": "horizontal", "columns": 7, "symbolType": "stroke", "symbolSize": 6400,
        "symbolStrokeWidth": 5, "labelAlign": "center", "labelOffset": -42.5, "labelFontSize": 20,
        "labelColor": "#231f20", "columnPadding": 62, "gridAlign": "all", "padding": 0, "labelLimit": 300,
        "encode": {"labels": {"update": {"dy": {"value": 26}}}}
      }
    }
  }
}
